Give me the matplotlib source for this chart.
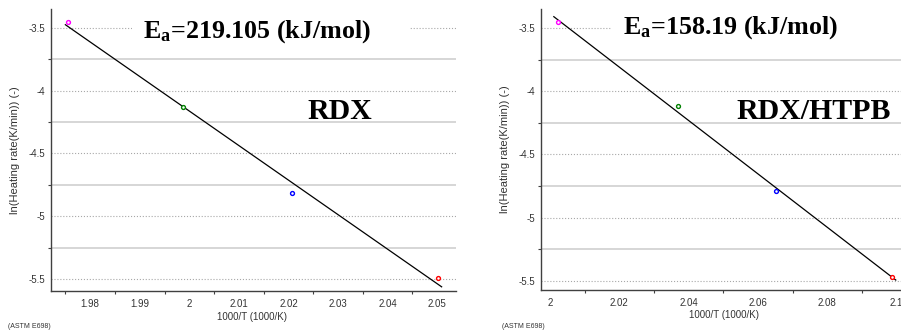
import numpy as np
import matplotlib
matplotlib.use('Agg')
import matplotlib.pyplot as plt
from matplotlib.ticker import MultipleLocator, FuncFormatter

# data
rdx_x = [1.9756, 1.9987, 2.0208, 2.0501]
rdx_y = [-3.455, -4.132, -4.815, -5.490]
htpb_x = [2.0022, 2.0370, 2.0651, 2.0986]
htpb_y = [-3.453, -4.116, -4.792, -5.468]
point_colors = ['#ff00ff', '#008000', '#0000ff', '#ff0000']

ea_labels = ['219.105', '158.19']
names = ['RDX', 'RDX/HTPB']
xlabel = '1000/T (1000/K)'
ylabel = 'ln(Heating rate(K/min)) (-)'

W, H = 901, 332
fig = plt.figure(figsize=(W/100, H/100), dpi=100)
plt.rcParams['font.family'] = 'Liberation Sans'

def px(l, t, r, b):
    return [l/W, 1-b/H, (r-l)/W, (b-t)/H]

def fmt(v, pos):
    return '%g' % round(v, 4)

# axes placement (pixels), limits, tick steps
panels = [
    dict(box=(51, 9, 456, 291), xlim=(1.9721, 2.0538), ylim=(-5.596, -3.349), xstep=0.01,
         xs=rdx_x, ys=rdx_y, fit=(1.9750, 2.0509), ea=ea_labels[0], name=names[0], tail='     ',
         ea_y=0.897, name_x=0.712, name_y=0.61, ylab_x=-0.0765, xlab=(0.496, -0.092), astm=8),
    dict(box=(541, 9, 902, 290), xlim=(1.9974, 2.1016), ylim=(-5.574, -3.347), xstep=0.02,
         xs=htpb_x, ys=htpb_y, fit=(2.0011, 2.0998), ea=ea_labels[1], name=names[1], tail='          ',
         ea_y=0.9135, name_x=0.755, name_y=0.609, ylab_x=-0.086, xlab=(0.506, -0.089), astm=502),
]

for p in panels:
    ax = fig.add_axes(px(*p['box']))
    ax.set_xlim(p['xlim'])
    ax.set_ylim(p['ylim'])
    for s in ['top', 'right']:
        ax.spines[s].set_visible(False)
    for s in ['left', 'bottom']:
        ax.spines[s].set_color('#404040')
        ax.spines[s].set_linewidth(1.0)

    ax.xaxis.set_major_locator(MultipleLocator(p['xstep']))
    ax.xaxis.set_minor_locator(MultipleLocator(p['xstep']/2))
    ax.yaxis.set_major_locator(MultipleLocator(0.5))
    ax.yaxis.set_minor_locator(MultipleLocator(0.25))
    ax.xaxis.set_major_formatter(FuncFormatter(fmt))
    ax.yaxis.set_major_formatter(FuncFormatter(fmt))
    ax.tick_params(which='major', length=0, labelsize=7, labelcolor='#333333')
    ax.tick_params(axis='x', which='major', pad=6)
    ax.tick_params(axis='y', which='major', pad=4)
    ax.tick_params(which='minor', length=2, width=0.8, color='#404040')

    ax.grid(True, axis='y', which='major', linestyle=':', color='#a8a8a8', linewidth=0.8)
    ax.grid(True, axis='y', which='minor', linestyle='-', color='#d0d0d0', linewidth=1.2)
    ax.set_axisbelow(True)

    # linear fit through the points
    k, b = np.polyfit(p['xs'], p['ys'], 1)
    fx = np.array(p['fit'])
    ax.plot(fx, k*fx + b, color='black', linewidth=0.9, zorder=3)
    for x, y, c in zip(p['xs'], p['ys'], point_colors):
        ax.plot(x, y, 'o', ms=2.8, mfc='white', mec=c, mew=1.0, zorder=4, clip_on=False)

    ax.set_ylabel(ylabel, fontsize=8, color='#333333')
    ax.yaxis.set_label_coords(p['ylab_x'], 0.5)
    ax.set_xlabel(xlabel, fontsize=7, color='#333333')
    ax.xaxis.set_label_coords(*p['xlab'])
    ax.xaxis.label.set_va('center')

    ax.text(0.227, p['ea_y'], 'E$\\mathregular{_a}$=' + p['ea'] + ' (kJ/mol)' + p['tail'],
            transform=ax.transAxes, ha='left', va='baseline',
            family='Liberation Serif', fontweight='bold', fontsize=18.7, zorder=5,
            bbox=dict(facecolor='white', edgecolor='none', pad=8))
    ax.text(p['name_x'], p['name_y'], p['name'], transform=ax.transAxes,
            ha='center', va='baseline', family='Liberation Serif',
            fontweight='bold', fontsize=21.5, zorder=5)

    fig.text(p['astm']/W, 1-327/H, '(ASTM E698)', fontsize=5, color='#333333',
             ha='left', va='center')

fig.savefig('out.png', dpi=100)
